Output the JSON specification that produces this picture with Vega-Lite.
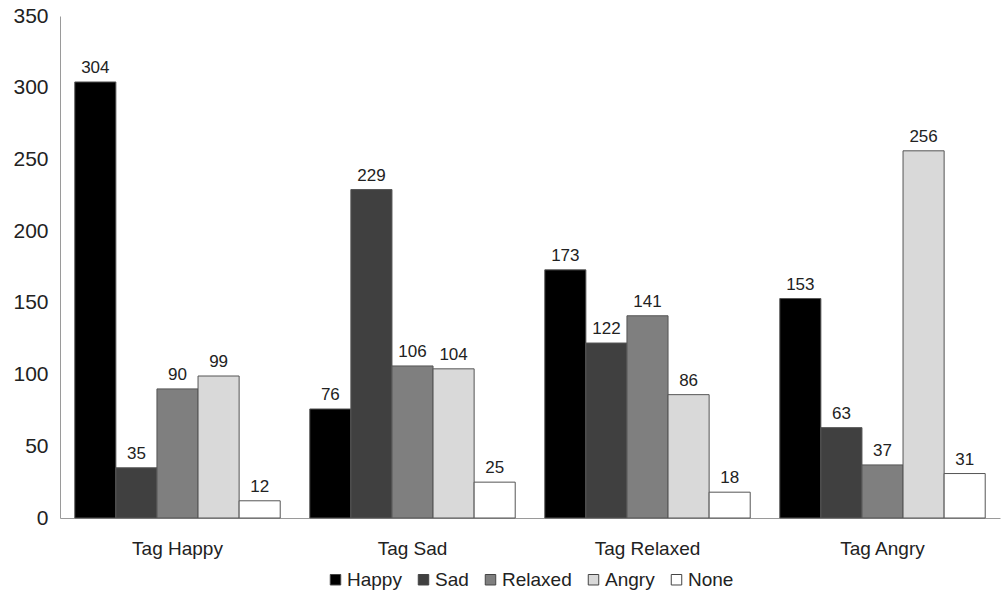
{
  "$schema": "https://vega.github.io/schema/vega-lite/v6.json",
  "width": 940,
  "height": 502,
  "autosize": {"type": "none"},
  "padding": {"left": 60, "top": 16, "right": 2, "bottom": 78},
  "background": "white",
  "config": {
    "view": {"stroke": null},
    "font": "Liberation Sans",
    "axis": {"grid": false, "ticks": false, "domainColor": "#9a9a9a", "labelColor": "#222", "labelFont": "Liberation Sans"},
    "legend": {"layout": {"bottom": {"anchor": "middle"}}}
  },
  "data": {
    "values": [
      {"tag": "Tag Happy", "emotion": "Happy", "count": 304},
      {"tag": "Tag Happy", "emotion": "Sad", "count": 35},
      {"tag": "Tag Happy", "emotion": "Relaxed", "count": 90},
      {"tag": "Tag Happy", "emotion": "Angry", "count": 99},
      {"tag": "Tag Happy", "emotion": "None", "count": 12},
      {"tag": "Tag Sad", "emotion": "Happy", "count": 76},
      {"tag": "Tag Sad", "emotion": "Sad", "count": 229},
      {"tag": "Tag Sad", "emotion": "Relaxed", "count": 106},
      {"tag": "Tag Sad", "emotion": "Angry", "count": 104},
      {"tag": "Tag Sad", "emotion": "None", "count": 25},
      {"tag": "Tag Relaxed", "emotion": "Happy", "count": 173},
      {"tag": "Tag Relaxed", "emotion": "Sad", "count": 122},
      {"tag": "Tag Relaxed", "emotion": "Relaxed", "count": 141},
      {"tag": "Tag Relaxed", "emotion": "Angry", "count": 86},
      {"tag": "Tag Relaxed", "emotion": "None", "count": 18},
      {"tag": "Tag Angry", "emotion": "Happy", "count": 153},
      {"tag": "Tag Angry", "emotion": "Sad", "count": 63},
      {"tag": "Tag Angry", "emotion": "Relaxed", "count": 37},
      {"tag": "Tag Angry", "emotion": "Angry", "count": 256},
      {"tag": "Tag Angry", "emotion": "None", "count": 31}
    ]
  },
  "encoding": {
    "x": {
      "field": "tag", "type": "nominal", "sort": null, "title": null,
      "scale": {"paddingInner": 0, "paddingOuter": 0},
      "axis": {"labelAngle": 0, "labelFontSize": 19, "labelPadding": 21}
    },
    "xOffset": {
      "field": "emotion", "type": "nominal",
      "sort": ["Happy", "Sad", "Relaxed", "Angry", "None"],
      "scale": {"paddingInner": 0, "paddingOuter": 0.36}
    },
    "y": {
      "field": "count", "type": "quantitative", "title": null,
      "scale": {"domain": [0, 350]},
      "axis": {"values": [0, 50, 100, 150, 200, 250, 300, 350], "labelFontSize": 21, "labelPadding": 12}
    }
  },
  "layer": [
    {
      "mark": {"type": "bar", "stroke": "#555", "strokeWidth": 1},
      "encoding": {
        "fill": {
          "field": "emotion", "type": "nominal",
          "sort": ["Happy", "Sad", "Relaxed", "Angry", "None"],
          "scale": {"domain": ["Happy", "Sad", "Relaxed", "Angry", "None"], "range": ["#000000", "#404040", "#7f7f7f", "#d9d9d9", "#ffffff"]},
          "legend": {
            "orient": "bottom", "direction": "horizontal", "title": null,
            "symbolType": "square", "symbolSize": 110, "symbolStrokeColor": "#444", "symbolStrokeWidth": 1,
            "labelFontSize": 19, "labelColor": "#222", "labelOffset": 2, "columnPadding": 12, "offset": 12
          }
        }
      }
    },
    {
      "mark": {"type": "text", "dy": -14, "fontSize": 17, "color": "#222"},
      "encoding": {"text": {"field": "count", "type": "quantitative"}}
    }
  ]
}
